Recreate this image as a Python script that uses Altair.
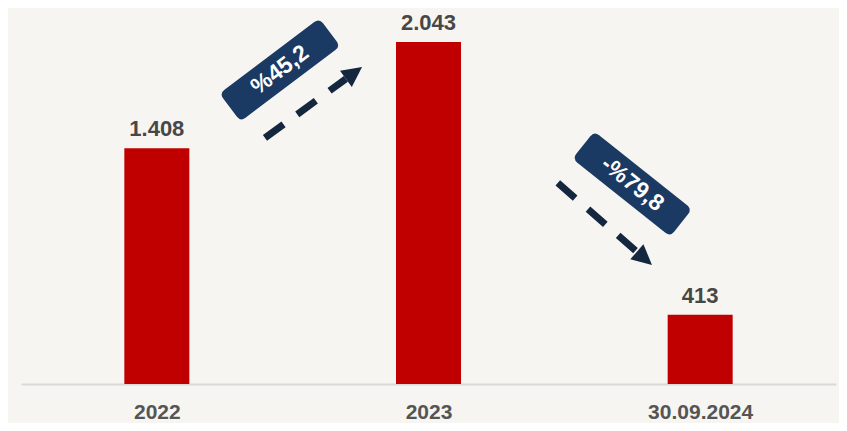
import json
import math
import altair as alt
import pandas as pd

# ---- data ----
categories = ["2022", "2023", "30.09.2024"]
values = [1408, 2043, 413]
value_labels = ["1.408", "2.043", "413"]

box_texts = ["%45,2", "-%79,8"]
box_x = [0.453, 1.75]
box_y = [1876, 1195]
box_angles = [323, 38.5]

arrow_tail_x = [0.398, 1.476]
arrow_tail_y = [1470, 1201]
arrow_end_x = [0.696, 1.767]
arrow_end_y = [1823, 790]

# ---- layout / style ----
W, H = 815, 376
YMAX = 2246
BG = "#f6f5f1"
BAR = "#c00000"
NAVY = "#1b3a63"
ARROW = "#15263f"
TXT = "#474747"
FONT = "Liberation Sans"

px_x = W / 3.0
px_y = H / YMAX

bars = pd.DataFrame({"pos": list(range(len(categories))), "value": values, "label": value_labels})

boxes = pd.DataFrame({"x": box_x, "y": box_y, "angle": box_angles, "text": box_texts})

line_rows = []
head_rows = []
for i in range(len(arrow_tail_x)):
    line_rows.append({"arrow": i, "order": 0, "x": arrow_tail_x[i], "y": arrow_tail_y[i]})
    line_rows.append({"arrow": i, "order": 1, "x": arrow_end_x[i], "y": arrow_end_y[i]})
    dx = (arrow_end_x[i] - arrow_tail_x[i]) * px_x
    dy = -(arrow_end_y[i] - arrow_tail_y[i]) * px_y
    ang = math.degrees(math.atan2(dx, -dy)) % 360
    head_rows.append({"x": arrow_end_x[i], "y": arrow_end_y[i], "angle": ang})
lines = pd.DataFrame(line_rows)
heads = pd.DataFrame(head_rows)

xscale = alt.Scale(domain=[-0.5, len(categories) - 0.5], padding=0, nice=False, zero=False)
yscale = alt.Scale(domain=[0, YMAX], nice=False)
label_expr = json.dumps(categories) + "[datum.value]"

base = alt.Chart(bars)

bar_layer = base.mark_bar(size=65, color=BAR).encode(
    x=alt.X("pos:Q", scale=xscale,
            axis=alt.Axis(values=list(range(len(categories))), labelExpr=label_expr,
                          title=None, grid=False, ticks=False, tickSize=0,
                          labelFont=FONT, labelFontSize=21, labelFontWeight="bold",
                          labelColor="#555555", labelBaseline="alphabetic", labelPadding=34,
                          domainColor="#d9d9d9", domainWidth=2)),
    y=alt.Y("value:Q", scale=yscale, axis=None),
)

label_layer = base.mark_text(font=FONT, fontSize=22, fontWeight="bold", color=TXT,
                             baseline="alphabetic", dy=-12).encode(
    x=alt.X("pos:Q", scale=xscale), y=alt.Y("value:Q", scale=yscale), text="label:N")

box_path = ("M-0.9,-0.28 L0.9,-0.28 Q1,-0.28 1,-0.18 L1,0.18 Q1,0.28 0.9,0.28 "
            "L-0.9,0.28 Q-1,0.28 -1,0.18 L-1,-0.18 Q-1,-0.28 -0.9,-0.28 Z")

box_layer = alt.Chart(boxes).mark_point(shape=box_path, size=125 * 125, filled=True,
                                        opacity=1, color=NAVY, strokeWidth=0).encode(
    x=alt.X("x:Q", scale=xscale), y=alt.Y("y:Q", scale=yscale),
    angle=alt.Angle("angle:Q", scale=None))

box_text = alt.Chart(boxes).mark_text(font=FONT, fontSize=23, fontWeight="bold", color="white",
                                      align="center", baseline="middle").encode(
    x=alt.X("x:Q", scale=xscale), y=alt.Y("y:Q", scale=yscale),
    angle=alt.Angle("angle:Q", scale=None), text="text:N")

line_layer = alt.Chart(lines).mark_line(strokeWidth=7, strokeDash=[23, 17], color=ARROW).encode(
    x=alt.X("x:Q", scale=xscale), y=alt.Y("y:Q", scale=yscale),
    detail="arrow:N", order="order:Q")

head_layer = alt.Chart(heads).mark_point(shape="M0,-1 L0.5,0 L-0.5,0 Z", size=1600, filled=True,
                                         opacity=1, color=ARROW, strokeWidth=0).encode(
    x=alt.X("x:Q", scale=xscale), y=alt.Y("y:Q", scale=yscale),
    angle=alt.Angle("angle:Q", scale=None))

chart = alt.layer(bar_layer, label_layer, line_layer, head_layer, box_layer, box_text).properties(
    width=W, height=H,
    background=BG,
    autosize=alt.AutoSizeParams(type="none"),
    padding={"left": 13, "top": 0, "right": 3, "bottom": 39},
).configure_view(stroke=None)

chart.save("out.html", embed_options={"renderer": "svg", "actions": False})
